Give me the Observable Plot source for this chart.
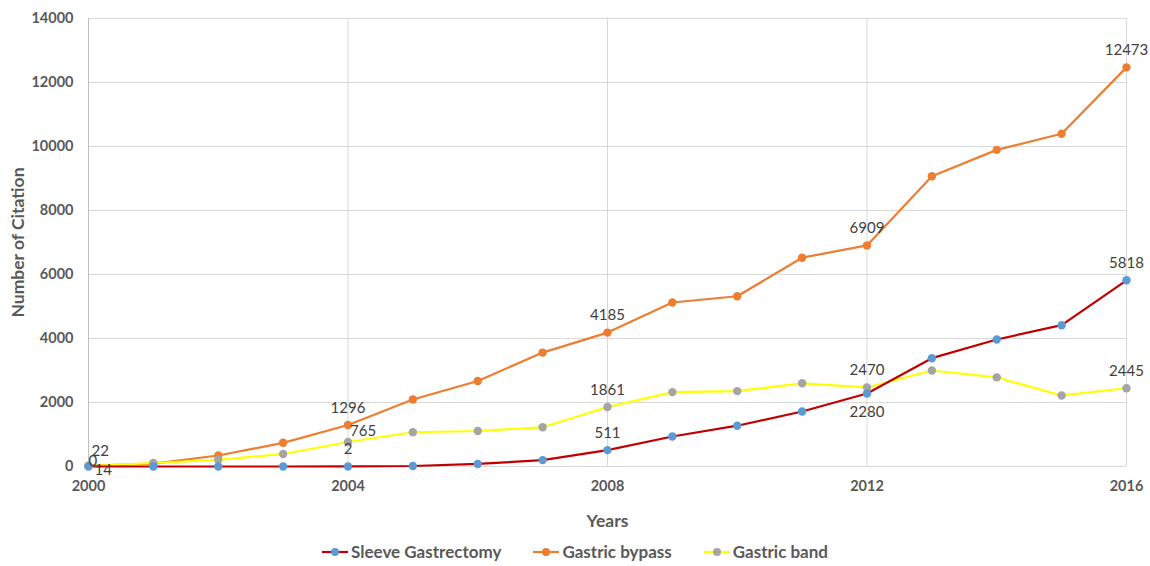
<!DOCTYPE html>
<html>
<head>
<meta charset="utf-8">
<script src="https://cdn.jsdelivr.net/npm/d3@7"></script>
<script src="https://cdn.jsdelivr.net/npm/@observablehq/plot@0.6"></script>
<style>
  body { margin: 0; background: #fff; font-family: Lato, "Open Sans", sans-serif; }
  #chart svg { display: block; }
  .legend { display: flex; justify-content: center; gap: 32px; margin-top: 6px; font-family: Lato, "Open Sans", sans-serif; font-weight: bold; font-size: 17px; color: #595959; padding-left: 0px; }
  .legend span { display: inline-flex; align-items: center; gap: 3px; }
</style>
</head>
<body>
<div id="chart"></div>
<script>
const years = [2000,2001,2002,2003,2004,2005,2006,2007,2008,2009,2010,2011,2012,2013,2014,2015,2016];
const sleeve = [0,0,0,0,2,15,80,200,511,937,1275,1719,2280,3385,3969,4416,5818];
const bypass = [22,90,344,740,1296,2095,2670,3560,4185,5125,5320,6525,6909,9070,9895,10400,12473];
const band = [14,110,210,390,765,1070,1110,1225,1861,2325,2355,2600,2470,3000,2785,2220,2445];
const xTicks = [2000,2004,2008,2012,2016];
const yTicks = [0,2000,4000,6000,8000,10000,12000,14000];
const labeledYears = [2000,2004,2008,2012,2016];

const colors = {
  sleeveLine: "#C00000", sleeveDot: "#5B9BD5",
  bypassLine: "#ED7D31", bypassDot: "#ED7D31",
  bandLine: "#FFFF00", bandDot: "#A5A5A5"
};

const mk = arr => years.map((y, i) => ({year: y, value: arr[i]}));
const S = mk(sleeve), B = mk(bypass), G = mk(band);
const lab = (d, ys) => d.filter(p => ys.includes(p.year));

const textStyle = {x: "year", y: "value", text: d => String(d.value), fill: "#404040", fontSize: 15, fontFamily: "Lato, 'Open Sans', sans-serif"};

const chart = Plot.plot({
  width: 1150,
  height: 535,
  marginLeft: 88,
  marginRight: 24,
  marginTop: 18,
  marginBottom: 69,
  style: {fontFamily: "Lato, 'Open Sans', sans-serif", background: "#fff"},
  x: {domain: [2000, 2016]},
  y: {domain: [0, 14000]},
  marks: [
    Plot.gridY(yTicks, {stroke: "#d9d9d9", strokeOpacity: 1, strokeWidth: 1}),
    Plot.gridX(xTicks, {stroke: "#d9d9d9", strokeOpacity: 1, strokeWidth: 1}),
    Plot.ruleX([2000], {stroke: "#bfbfbf"}),
    Plot.axisY(yTicks, {tickSize: 0, tickPadding: 15, fontSize: 14.5, fontWeight: "bold", fill: "#595959", label: "Number of Citation", labelAnchor: "center", labelOffset: 77, labelArrow: "none", tickFormat: d => String(d)}),
    Plot.axisX(xTicks, {tickSize: 0, tickPadding: 14, fontSize: 14.5, fontWeight: "bold", fill: "#595959", label: "Years", labelAnchor: "center", labelOffset: 60, labelArrow: "none", tickFormat: d => String(d)}),
    Plot.line(B, {x: "year", y: "value", stroke: colors.bypassLine, strokeWidth: 2.2}),
    Plot.line(G, {x: "year", y: "value", stroke: colors.bandLine, strokeWidth: 2.2}),
    Plot.line(S, {x: "year", y: "value", stroke: colors.sleeveLine, strokeWidth: 2.2}),
    Plot.dot(B, {x: "year", y: "value", fill: colors.bypassDot, r: 4.2}),
    Plot.dot(G, {x: "year", y: "value", fill: colors.bandDot, r: 4.2}),
    Plot.dot(S, {x: "year", y: "value", fill: colors.sleeveDot, r: 4.2}),
    // bypass labels
    Plot.text(lab(B, [2000]), {...textStyle, textAnchor: "start", dx: 3, dy: -15}),
    Plot.text(lab(B, labeledYears.slice(1)), {...textStyle, dy: -17}),
    // sleeve labels
    Plot.text(lab(S, [2000]), {...textStyle, textAnchor: "start", dx: 0, dy: -5}),
    Plot.text(lab(S, [2004, 2008, 2016]), {...textStyle, dy: -17}),
    Plot.text(lab(S, [2012]), {...textStyle, dy: 19}),
    // band labels
    Plot.text(lab(G, [2000]), {...textStyle, textAnchor: "start", dx: 6, dy: 4}),
    Plot.text(lab(G, [2004]), {...textStyle, textAnchor: "start", dx: 2, dy: -11}),
    Plot.text(lab(G, [2008, 2012, 2016]), {...textStyle, dy: -17})
  ]
});
document.getElementById("chart").appendChild(chart);
chart.querySelectorAll('[aria-label="x-axis label"] text, [aria-label="y-axis label"] text').forEach(t => {
  t.setAttribute("font-weight", "bold"); t.setAttribute("fill", "#595959"); t.setAttribute("font-size", "17.5");
});

const legendItems = [
  {name: "Sleeve Gastrectomy", line: colors.sleeveLine, dot: colors.sleeveDot},
  {name: "Gastric bypass", line: colors.bypassLine, dot: colors.bypassDot},
  {name: "Gastric band", line: colors.bandLine, dot: colors.bandDot}
];
const legend = document.createElement("div");
legend.className = "legend";
legendItems.forEach(it => {
  const s = document.createElement("span");
  s.innerHTML = `<svg width="26" height="12"><line x1="0" y1="6" x2="26" y2="6" stroke="${it.line}" stroke-width="2.2"/><circle cx="13" cy="6" r="4" fill="${it.dot}"/></svg>${it.name}`;
  legend.appendChild(s);
});
document.body.appendChild(legend);
</script>
</body>
</html>
